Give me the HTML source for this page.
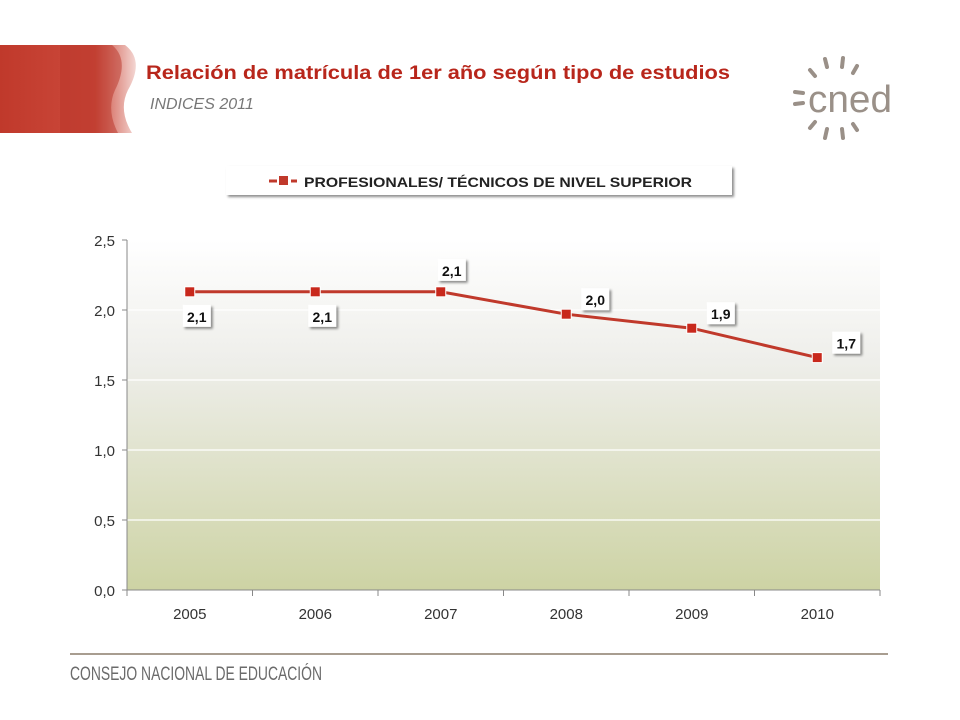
<!DOCTYPE html>
<html><head><meta charset="utf-8"><style>
body{margin:0;width:960px;height:720px;background:#fff;position:relative;overflow:hidden;font-family:"Liberation Sans",sans-serif}
.abs{position:absolute}
</style></head><body>
<svg class="abs" style="left:0;top:0" width="960" height="720">
<defs>
<linearGradient id="bg" x1="0" y1="0" x2="0" y2="1"><stop offset="0" stop-color="#ffffff"/><stop offset="0.35" stop-color="#eeeeea"/><stop offset="1" stop-color="#cdd3a4"/></linearGradient>
<linearGradient id="red" x1="0" y1="0" x2="1" y2="0"><stop offset="0" stop-color="#c0392b"/><stop offset="0.7" stop-color="#cc4a3c"/><stop offset="1" stop-color="#f3d6d2"/></linearGradient>
<filter id="sh" x="-20%" y="-20%" width="150%" height="160%"><feDropShadow dx="2" dy="2" stdDeviation="1.2" flood-color="#000" flood-opacity="0.45"/></filter>
</defs>
<path d="M0,45 H125 Q145,60 128,90 Q118,110 132,133 H0 Z" fill="url(#red)"/>
<path d="M60,45 H112 Q130,60 115,90 Q106,110 118,133 H60 Z" fill="#b83328" opacity="0.5"/>
<line x1="70" y1="654" x2="888" y2="654" stroke="#8b7d6b" stroke-width="1.5"/>
<g stroke="#9a9088" stroke-width="4" stroke-linecap="round">
<line x1="810" y1="70" x2="815" y2="76"/><line x1="825" y1="59" x2="827" y2="67"/><line x1="843" y1="58" x2="842" y2="67"/><line x1="857" y1="66" x2="853" y2="73"/>
<line x1="795" y1="92" x2="803" y2="93"/><line x1="795" y1="104" x2="803" y2="103"/>
<line x1="810" y1="128" x2="815" y2="122"/><line x1="825" y1="138" x2="827" y2="129"/><line x1="843" y1="138" x2="842" y2="129"/><line x1="857" y1="130" x2="853" y2="124"/>
</g>
<text x="808" y="112" font-family="'Liberation Sans Narrow','Liberation Sans',sans-serif" font-size="38" fill="#9a9088" textLength="84" lengthAdjust="spacingAndGlyphs">cned</text>
<text x="146" y="79" font-size="19" font-weight="bold" fill="#b8261b" textLength="584" lengthAdjust="spacingAndGlyphs">Relación de matrícula  de 1er año  según  tipo de estudios</text>
<text x="150" y="109" font-size="16" font-style="italic" fill="#777">INDICES 2011</text>
<g>
<rect x="226" y="166" width="506" height="29" fill="#fff" filter="url(#sh)"/>
<line x1="269" y1="181" x2="297" y2="181" stroke="#c0392b" stroke-width="3" stroke-dasharray="8,3"/>
<rect x="279" y="176" width="9" height="9" fill="#c0392b"/>
<text x="304" y="187" font-size="14" font-weight="bold" fill="#222" textLength="388" lengthAdjust="spacingAndGlyphs">PROFESIONALES/ TÉCNICOS DE NIVEL SUPERIOR</text>
</g>
<g id="chart"></g>
<text x="70" y="680" font-family="'Liberation Sans Narrow','Liberation Sans',sans-serif" font-size="19" fill="#6b6b6b" textLength="252" lengthAdjust="spacingAndGlyphs">CONSEJO NACIONAL DE EDUCACIÓN</text>
</svg>
<script>
const categories=["2005","2006","2007","2008","2009","2010"];
const values=[2.13,2.13,2.13,1.97,1.87,1.66];
const valueLabels=["2,1","2,1","2,1","2,0","1,9","1,7"];
const labelPos=["below","below","above","right","right","right"];
const yTicks=[0,0.5,1,1.5,2,2.5];
const yTickLabels=["0,0","0,5","1,0","1,5","2,0","2,5"];
const NS="http://www.w3.org/2000/svg";
const g=document.getElementById("chart");
const L=127,R=880,T=240,B=590,yMax=2.5;
const x=i=>L+(R-L)/categories.length*(i+0.5);
const y=v=>B-(B-T)*v/yMax;
function mk(t,a,p){const e=document.createElementNS(NS,t);for(const k in a)e.setAttribute(k,a[k]);(p||g).appendChild(e);return e;}
const bg=mk("rect",{x:L,y:T,width:R-L,height:B-T,fill:"url(#bg)"});


yTicks.forEach((t,i)=>{
 if(t>0){const gl=mk("line",{x1:L,x2:R,y1:y(t),y2:y(t),stroke:"#fff","stroke-width":1.2});
 
 }
 mk("line",{x1:L-5,x2:L,y1:y(t),y2:y(t),stroke:"#888"});
 const tx=mk("text",{x:L-12,y:y(t)+6,"text-anchor":"end","font-size":15,fill:"#333","font-family":"'Liberation Sans Narrow','Liberation Sans',sans-serif"});
 tx.textContent=yTickLabels[i];
 
 
});
mk("line",{x1:L,x2:L,y1:T,y2:B,stroke:"#888"});
mk("line",{x1:L,x2:R,y1:B,y2:B,stroke:"#888"});
categories.forEach((c,i)=>{
 const bx=L+(R-L)/categories.length*(i+1);
 mk("line",{x1:bx,x2:bx,y1:B,y2:B+6,stroke:"#888"});
 const tx=mk("text",{x:x(i),y:B+29,"text-anchor":"middle","font-size":15,fill:"#333","font-family":"'Liberation Sans Narrow','Liberation Sans',sans-serif"});
 tx.textContent=c;
 
 
});
mk("line",{x1:L,x2:L,y1:B,y2:B+6,stroke:"#888"});
const line=mk("polyline",{points:values.map((v,i)=>x(i)+","+y(v)).join(" "),fill:"none",stroke:"#c0392b","stroke-width":3});


values.forEach((v,i)=>{
 const px=x(i),py=y(v);
 const m=mk("rect",{x:px-5,y:py-5,width:10,height:10,fill:"#c8281c",stroke:"#fff","stroke-width":1});
 
 
 let lx,ly;
 if(labelPos[i]==="below"){lx=px+7;ly=py+25;}
 else if(labelPos[i]==="above"){lx=px+11;ly=py-21;}
 else {lx=px+29;ly=py-14;}
 const bx=mk("rect",{x:lx-14,y:ly-12,width:28,height:22,fill:"#fff",filter:"url(#sh)"});
 
 
 const t=mk("text",{x:lx,y:ly+5,"text-anchor":"middle","font-size":14,"font-weight":"bold",fill:"#111"});
 t.textContent=valueLabels[i];
 
 
});
</script>
</body></html>
